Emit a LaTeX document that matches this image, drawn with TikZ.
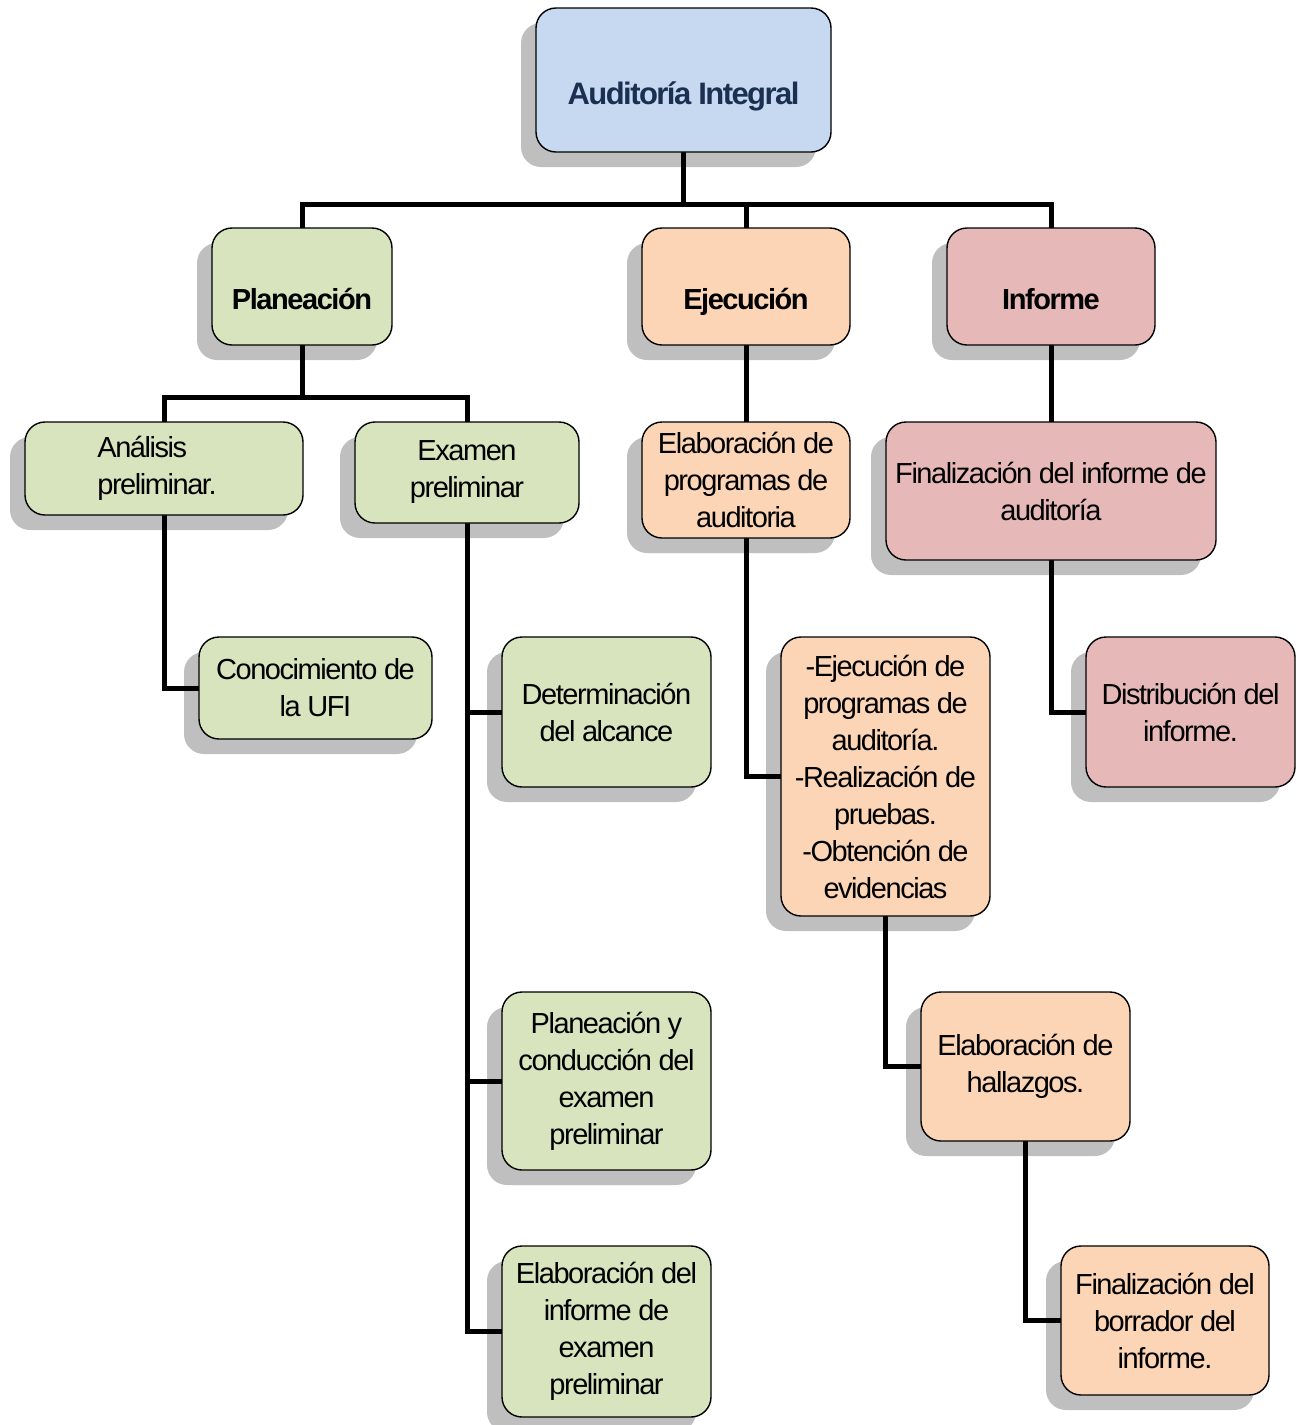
\documentclass[tikz,border=0pt]{standalone}
\usepackage{fontspec}
\setmainfont{Liberation Sans}[LetterSpace=-5]
\usetikzlibrary{shadows,backgrounds}
\definecolor{cblue}{HTML}{C6D9F1}
\definecolor{cgreen}{HTML}{D7E4BD}
\definecolor{corange}{HTML}{FBD5B5}
\definecolor{cpink}{HTML}{E6B9B8}
\definecolor{cnavy}{HTML}{1B2F50}
\begin{document}
\begin{tikzpicture}[x=1pt,y=-1pt,
  box/.style={draw=black, line width=1.4pt, rounded corners=20pt, align=center, inner sep=0pt,
    font=\fontsize{29}{37}\selectfont,
    drop shadow={shadow xshift=-15pt, shadow yshift=-15pt, fill=black, opacity=0.25}},
  topbox/.style={box, font=\bfseries\fontsize{29}{37}\selectfont, text height=46pt, text depth=0pt},
  conn/.style={line width=5pt, line join=miter, line cap=rect}]
\useasboundingbox (0,0) rectangle (1307,1425);

\node[topbox, fill=cblue, minimum width=295, minimum height=144, text=cnavy, text height=48pt,
  font=\bfseries\fontsize{31}{37}\selectfont] (root) at (683.5,80) {Auditoría Integral};

\node[topbox, fill=cgreen, minimum width=180, minimum height=117] (plan) at (302,286.5) {Planeación};
\node[topbox, fill=corange, minimum width=208, minimum height=117] (eje) at (746,286.5) {Ejecución};
\node[topbox, fill=cpink, minimum width=208, minimum height=117] (inf) at (1051,286.5) {Informe};

\node[box, fill=cgreen, minimum width=278, minimum height=93, align=left] (anal) at (164,468.5) {Análisis\\preliminar.\rule{14pt}{0pt}};
\node[box, fill=cgreen, minimum width=224, minimum height=101] (exam) at (467,472.5) {Examen\\preliminar};
\node[box, fill=corange, minimum width=208, minimum height=116] (prog) at (746,480) {Elaboración de\\programas de\\auditoria};
\node[box, fill=cpink, minimum width=330, minimum height=138] (fin) at (1051,491) {Finalización del informe de\\auditoría};

\node[box, fill=cgreen, minimum width=233, minimum height=102] (conoc) at (315.5,688) {Conocimiento de\\la UFI};
\node[box, fill=cgreen, minimum width=209, minimum height=150] (det) at (606.5,712) {Determinación\\del alcance};
\node[box, fill=corange, minimum width=209, minimum height=279] (ejec) at (885.5,776.5) {-Ejecución de\\programas de\\auditoría.\\-Realización de\\pruebas.\\-Obtención de\\evidencias};
\node[box, fill=cpink, minimum width=209, minimum height=150] (dist) at (1190.5,712) {Distribución del\\informe.};

\node[box, fill=cgreen, minimum width=209, minimum height=178] (plc) at (606.5,1081) {Planeación y\\conducción del\\examen\\preliminar};
\node[box, fill=corange, minimum width=209, minimum height=149] (hall) at (1025.5,1066.5) {Elaboración de\\hallazgos.};

\node[box, fill=cgreen, minimum width=209, minimum height=171] (elab) at (606.5,1331.5) {Elaboración del\\informe de\\examen\\preliminar};
\node[box, fill=corange, minimum width=208, minimum height=149] (borr) at (1165,1320.5) {Finalización del\\borrador del\\informe.};

\begin{scope}[on background layer]
\draw[conn] (root.south) -- ++(0,52) -| (plan.north);
\draw[conn] (root.south) -- ++(0,52) -| (eje.north);
\draw[conn] (root.south) -- ++(0,52) -| (inf.north);
\draw[conn] (plan.south) -- ++(0,52) -| (anal.north);
\draw[conn] (plan.south) -- ++(0,52) -| (exam.north);
\draw[conn] (anal.south) |- (conoc.west);
\draw[conn] (exam.south) |- (det.west);
\draw[conn] (exam.south) |- (plc.west);
\draw[conn] (exam.south) |- (elab.west);
\draw[conn] (eje.south) -- (prog.north);
\draw[conn] (prog.south) |- (ejec.west);
\draw[conn] (ejec.south) |- (hall.west);
\draw[conn] (hall.south) |- (borr.west);
\draw[conn] (inf.south) -- (fin.north);
\draw[conn] (fin.south) |- (dist.west);
\end{scope}
\end{tikzpicture}
\end{document}
